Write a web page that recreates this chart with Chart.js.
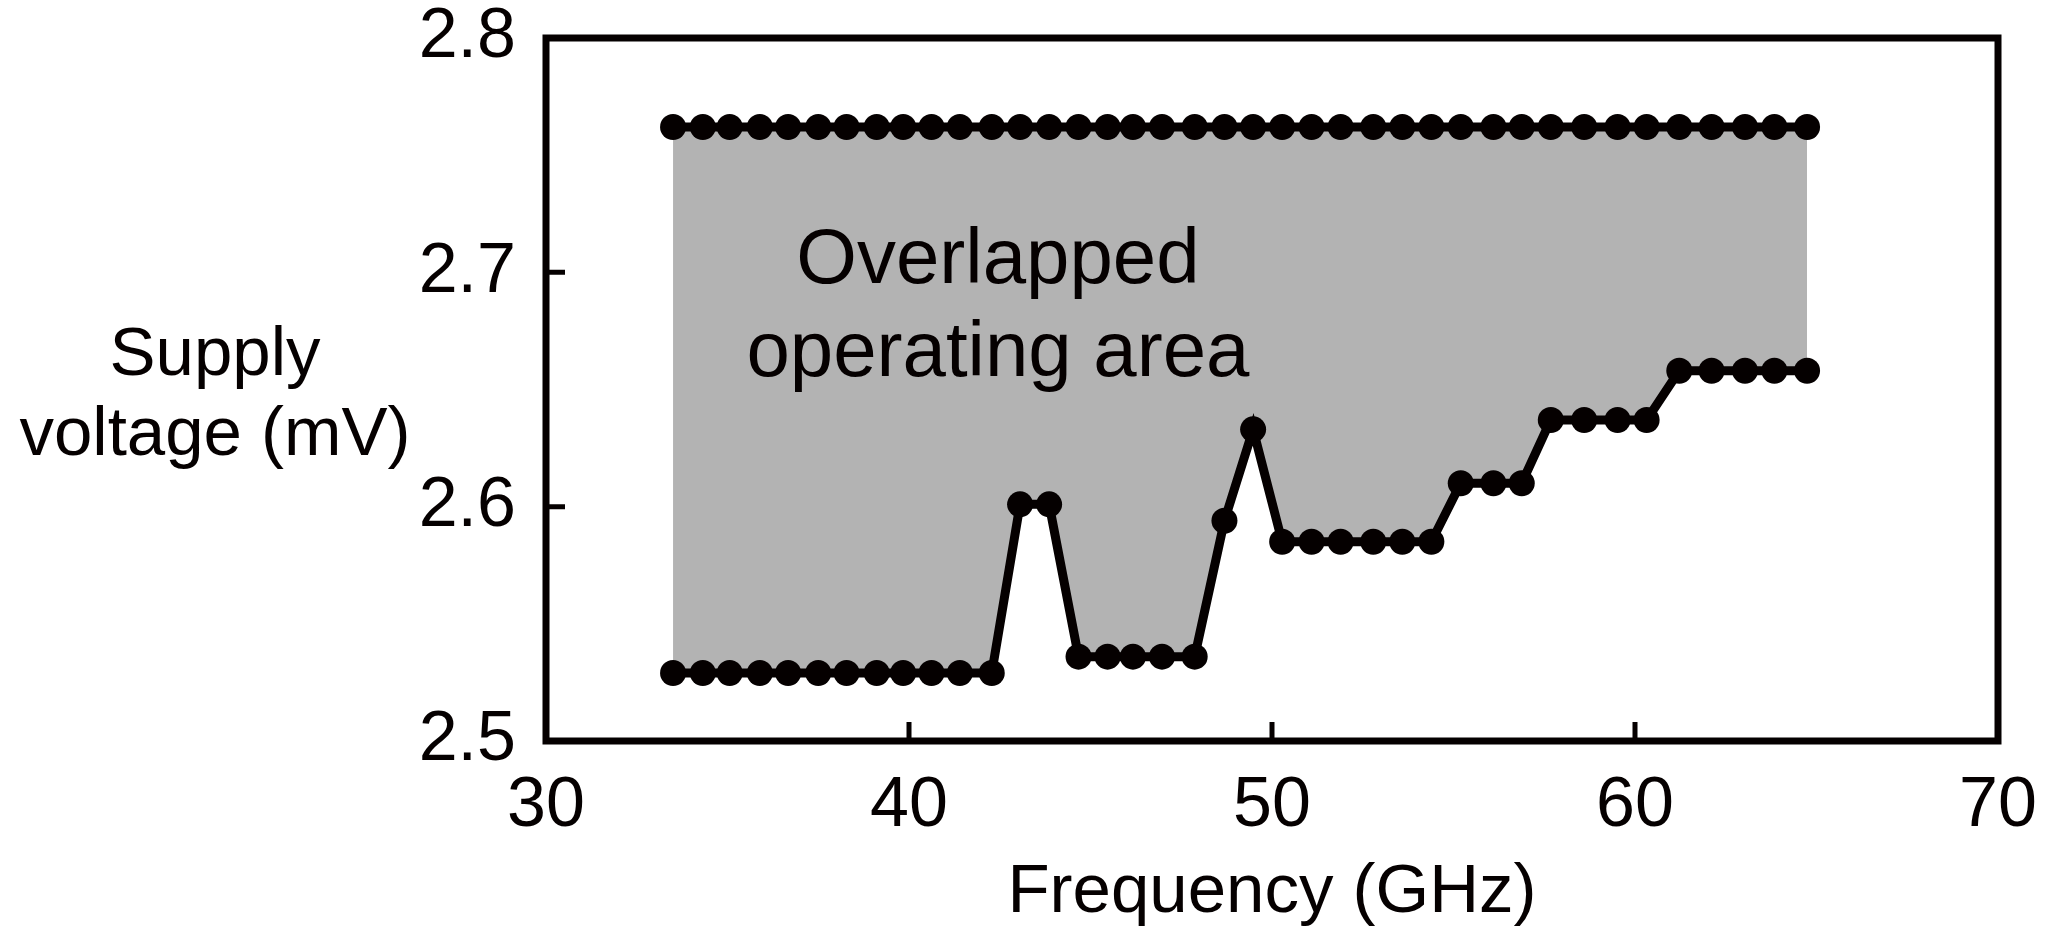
<!DOCTYPE html>
<html>
<head>
<meta charset="utf-8">
<script src="https://cdn.jsdelivr.net/npm/chart.js@4/dist/chart.umd.min.js"></script>
<style>
  html, body { margin: 0; padding: 0; background: #fff; }
  #wrap { width: 2053px; height: 927px; position: relative; }
</style>
</head>
<body>
<div id="wrap"><canvas id="opChart"></canvas></div>
<script>
// frequencies (GHz), shared by both curves
const freq = [33.50, 34.32, 35.06, 35.89, 36.67, 37.50, 38.28, 39.11, 39.84, 40.62, 41.40, 42.28,
  43.06, 43.86, 44.67, 45.47, 46.17, 46.97, 47.87, 48.69, 49.48,
  50.28, 51.09, 51.89, 52.79, 53.59, 54.39, 55.20, 56.10, 56.88,
  57.68, 58.60, 59.52, 60.32, 61.22, 62.11, 63.03, 63.84, 64.74];

// upper limit of supply voltage
const upperV = [2.762, 2.762, 2.762, 2.762, 2.762, 2.762, 2.762, 2.762, 2.762, 2.762, 2.762, 2.762,
  2.762, 2.762, 2.762, 2.762, 2.762, 2.762, 2.762, 2.762, 2.762,
  2.762, 2.762, 2.762, 2.762, 2.762, 2.762, 2.762, 2.762, 2.762,
  2.762, 2.762, 2.762, 2.762, 2.762, 2.762, 2.762, 2.762, 2.762];

// lower limit of supply voltage
const lowerV = [2.529, 2.529, 2.529, 2.529, 2.529, 2.529, 2.529, 2.529, 2.529, 2.529, 2.529, 2.529,
  2.601, 2.601, 2.536, 2.536, 2.536, 2.536, 2.536, 2.594, 2.633,
  2.585, 2.585, 2.585, 2.585, 2.585, 2.585, 2.610, 2.610, 2.610,
  2.637, 2.637, 2.637, 2.637, 2.658, 2.658, 2.658, 2.658, 2.658];

const xTicks = [30, 40, 50, 60, 70];
const yTicks = [2.5, 2.6, 2.7, 2.8];
const xInnerTicks = [40, 50, 60];
const yInnerTicks = [2.6, 2.7];

const noteLines = ['Overlapped', 'operating area'];
const noteX = 42.45;
const noteY = [2.6955, 2.6557];

const yTitleLines = ['Supply', 'voltage (mV)'];

const FONT = '"Liberation Sans", Arial, Helvetica, sans-serif';
const INK = '#050000';
const AREA = '#b3b3b3';

const toPoints = (xs, ys) => xs.map((f, i) => ({ x: f, y: ys[i] }));

// box frame, inward ticks, in-plot note and the horizontal y title
const frameAndNotes = {
  id: 'frameAndNotes',
  afterDatasetsDraw(chart) {
    const { ctx, chartArea: a, scales: { x, y } } = chart;
    ctx.save();
    ctx.strokeStyle = INK;
    ctx.lineWidth = 7;
    ctx.strokeRect(a.left, a.top, a.right - a.left, a.bottom - a.top);

    ctx.lineWidth = 5;
    ctx.beginPath();
    xInnerTicks.forEach(v => {
      const px = x.getPixelForValue(v);
      ctx.moveTo(px, a.bottom);
      ctx.lineTo(px, a.bottom - 19);
    });
    yInnerTicks.forEach(v => {
      const py = y.getPixelForValue(v);
      ctx.moveTo(a.left, py);
      ctx.lineTo(a.left + 19, py);
    });
    ctx.stroke();

    ctx.fillStyle = INK;
    ctx.textAlign = 'center';
    ctx.textBaseline = 'alphabetic';
    ctx.font = '78px ' + FONT;
    noteLines.forEach((t, i) => {
      ctx.fillText(t, x.getPixelForValue(noteX), y.getPixelForValue(noteY[i]));
    });

    ctx.font = '69px ' + FONT;
    ctx.fillText(yTitleLines[0], 215, 375);
    ctx.fillText(yTitleLines[1], 215, 455);
    ctx.restore();
  }
};

new Chart(document.getElementById('opChart'), {
  type: 'line',
  data: {
    datasets: [
      {
        label: 'upper',
        data: toPoints(freq, upperV),
        borderColor: INK,
        backgroundColor: INK,
        borderWidth: 9,
        pointRadius: 13,
        pointBorderWidth: 0,
        pointBackgroundColor: INK,
        tension: 0,
        fill: false
      },
      {
        label: 'lower',
        data: toPoints(freq, lowerV),
        borderColor: INK,
        backgroundColor: AREA,
        borderWidth: 9,
        pointRadius: 13,
        pointBorderWidth: 0,
        pointBackgroundColor: INK,
        tension: 0,
        fill: { target: 0, above: AREA, below: AREA }
      }
    ]
  },
  options: {
    responsive: true,
    maintainAspectRatio: false,
    animation: false,
    layout: { padding: { left: 0, right: 55, top: 38, bottom: 0 }, autoPadding: false },
    plugins: {
      legend: { display: false },
      tooltip: { enabled: false },
      filler: { drawTime: 'beforeDatasetsDraw' }
    },
    scales: {
      x: {
        type: 'linear',
        min: 30,
        max: 70,
        afterBuildTicks: s => { s.ticks = xTicks.map(v => ({ value: v })); },
        afterFit: s => { s.height = 186; s.paddingLeft = 0; s.paddingRight = 0; },
        grid: { display: false, drawTicks: false },
        border: { display: false },
        ticks: {
          color: INK,
          padding: 24,
          maxRotation: 0,
          font: { family: FONT, size: 70 },
          callback: v => String(v)
        },
        title: {
          display: true,
          text: 'Frequency (GHz)',
          color: INK,
          padding: { top: 0, bottom: 0 },
          font: { family: FONT, size: 69, lineHeight: 1 }
        }
      },
      y: {
        min: 2.5,
        max: 2.8,
        afterBuildTicks: s => { s.ticks = yTicks.map(v => ({ value: v })); },
        afterFit: s => { s.width = 546; s.paddingTop = 0; s.paddingBottom = 0; },
        grid: { display: false, drawTicks: false },
        border: { display: false },
        ticks: {
          color: INK,
          padding: 30,
          font: { family: FONT, size: 70 },
          callback: v => Number(v).toFixed(1)
        }
      }
    }
  },
  plugins: [frameAndNotes]
});
</script>
</body>
</html>
